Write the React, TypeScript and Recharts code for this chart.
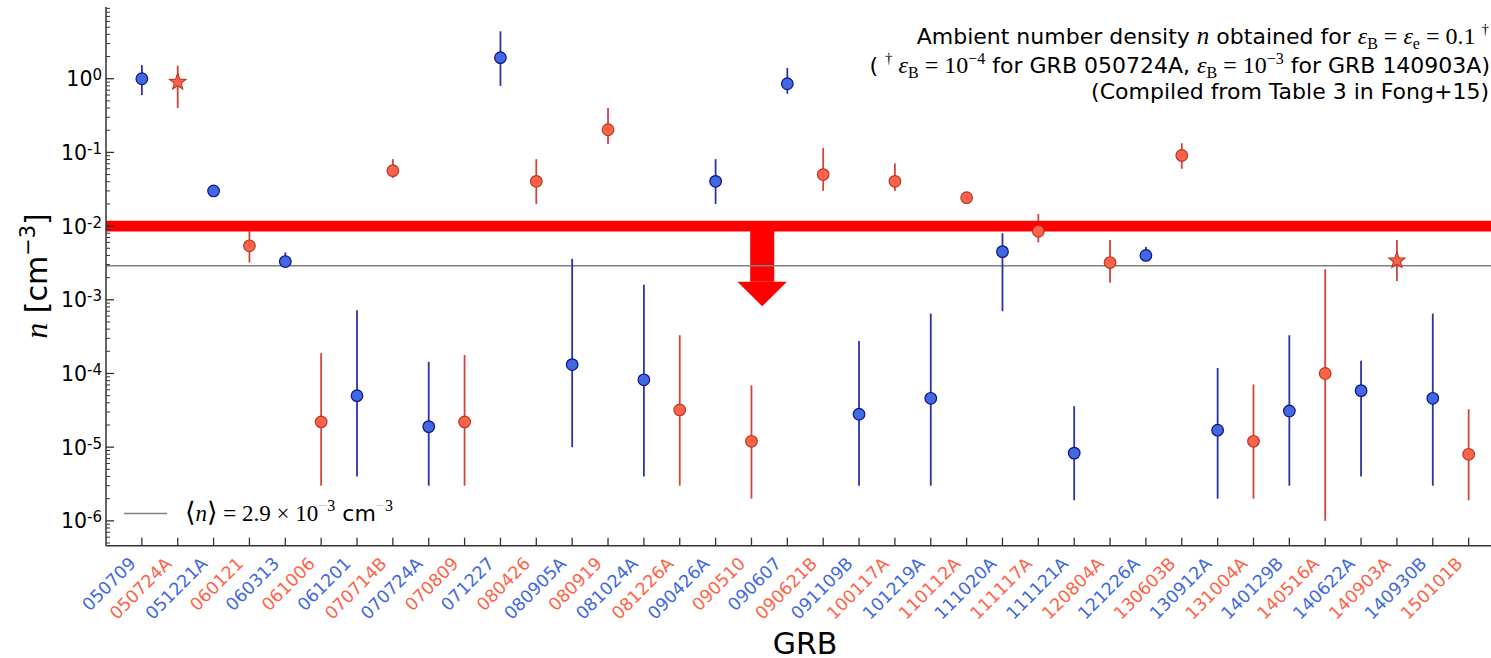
import React from "react";
import {
  ErrorBar,
  ReferenceArea,
  ReferenceLine,
  Scatter,
  ScatterChart,
  XAxis,
  YAxis,
} from "recharts";

// GRB names, in plotting order (left to right)
const grbNames = [
  "050709", "050724A", "051221A", "060121", "060313", "061006", "061201",
  "070714B", "070724A", "070809", "071227", "080426", "080905A", "080919",
  "081024A", "081226A", "090426A", "090510", "090607", "090621B", "091109B",
  "100117A", "101219A", "110112A", "111020A", "111117A", "111121A", "120804A",
  "121226A", "130603B", "130912A", "131004A", "140129B", "140516A", "140622A",
  "140903A", "140930B", "150101B",
];

// ambient density n [cm^-3], best value
const densityN = [
  1.0, 0.9, 0.03, 5.4e-3, 3.3e-3, 2.2e-5, 5.0e-5,
  0.0565, 1.9e-5, 2.2e-5, 1.93, 0.0405, 1.32e-4, 0.203,
  8.2e-5, 3.2e-5, 0.0405, 1.2e-5, 0.855, 0.05, 2.8e-5,
  0.0405, 4.6e-5, 0.0243, 4.5e-3, 8.5e-3, 8.3e-6, 3.2e-3,
  4.0e-3, 0.091, 1.7e-5, 1.2e-5, 3.1e-5, 1.0e-4, 5.85e-5,
  3.4e-3, 4.6e-5, 8.0e-6,
];

// lower end of the error bar
const densityLow = [
  0.6, 0.4, 0.027, 3.2e-3, 3.0e-3, 3.0e-6, 4.0e-6,
  0.045, 3.0e-6, 3.0e-6, 0.8, 0.02, 1.0e-5, 0.13,
  4.0e-6, 3.0e-6, 0.02, 2.0e-6, 0.626, 0.03, 3.0e-6,
  0.03, 3.0e-6, 0.022, 7.0e-4, 6.0e-3, 1.9e-6, 1.7e-3,
  3.6e-3, 0.06, 2.0e-6, 2.0e-6, 3.0e-6, 1.0e-6, 4.0e-6,
  1.8e-3, 3.0e-6, 1.9e-6,
];

// upper end of the error bar
const densityHigh = [
  1.53, 1.5, 0.034, 8.5e-3, 4.4e-3, 1.88e-4, 7.2e-4,
  0.081, 1.44e-4, 1.78e-4, 4.4, 0.081, 3.6e-3, 0.4,
  1.6e-3, 3.3e-4, 0.081, 6.9e-5, 1.4, 0.115, 2.75e-4,
  0.071, 6.5e-4, 0.027, 8.0e-3, 0.0146, 3.6e-5, 6.5e-3,
  5.2e-3, 0.133, 1.19e-4, 7.1e-5, 3.3e-4, 2.6e-3, 1.49e-4,
  6.5e-3, 6.5e-4, 3.27e-5,
];

// GRBs computed with a different epsilon_B (drawn as stars)
const daggerGRBs = ["050724A", "140903A"];

const meanDensity = 2.9e-3;
const thresholdDensity = 1e-2;

// downward arrow below the threshold band (data coordinates)
const arrowX = 18.3;
const arrowHeadTop = 1.76e-3;
const arrowTip = 8.2e-4;

const yDomain: [number, number] = [4.6e-7, 9.4];

const BLUE = "#4169e1";
const RED = "#ff6347";
const BLUE_EDGE = "#10108a";
const RED_EDGE = "#b8362c";
const BLUE_ERR = "#2a32a8";
const RED_ERR = "#d0453c";
const AXIS = "#333";
const SANS = "DejaVu Sans, sans-serif";
const SERIF = "Liberation Serif, DejaVu Serif, serif";

const rows = grbNames.map((name, i) => ({
  name,
  x: i + 1,
  n: densityN[i],
  err: [densityN[i] - densityLow[i], densityHigh[i] - densityN[i]],
}));
const blueRows = rows.filter((_, i) => i % 2 === 0);
const redRows = rows.filter((r, i) => i % 2 === 1 && !daggerGRBs.includes(r.name));
const starRows = rows.filter((r) => daggerGRBs.includes(r.name));

const xTicks = grbNames.map((_, i) => i + 1);
const yTicks: number[] = [];
for (let e = -7; e <= 0; e++) {
  for (let m = 1; m <= 9; m++) {
    const v = m * Math.pow(10, e);
    if (v >= yDomain[0] && v <= yDomain[1]) yTicks.push(v);
  }
}

function BottomTick({ x, y, payload }: any) {
  const i = payload.value - 1;
  const tx = x - 5;
  const ty = y + 19;
  return (
    <g>
      <line x1={x} x2={x} y1={y} y2={y - 8} stroke={AXIS} strokeWidth={1.3} />
      <text
        x={tx}
        y={ty}
        textAnchor="end"
        transform={`rotate(-45 ${tx} ${ty})`}
        fill={i % 2 === 0 ? BLUE : RED}
        fontFamily={SANS}
        fontSize={17.5}
      >
        {grbNames[i]}
      </text>
    </g>
  );
}

function TopTick({ x, y }: any) {
  return <line x1={x} x2={x} y1={y} y2={y + 8} stroke={AXIS} strokeWidth={1.3} />;
}

function LeftTick({ x, y, payload }: any) {
  const lg = Math.log10(payload.value);
  const major = Math.abs(lg - Math.round(lg)) < 1e-6;
  if (!major) {
    return <line x1={x} x2={x + 4} y1={y} y2={y} stroke={AXIS} strokeWidth={1} />;
  }
  const exp = Math.round(lg);
  return (
    <g>
      <line x1={x} x2={x + 8} y1={y} y2={y} stroke={AXIS} strokeWidth={1.3} />
      <text x={x - 4} y={y + 7.5} textAnchor="end" fontFamily={SANS} fontSize={20.5} fill="#000">
        10
        <tspan baselineShift={6.5} fontSize={15}>
          {String(exp)}
        </tspan>
      </text>
    </g>
  );
}

function Dot({ cx, cy, fill, stroke }: any) {
  return <circle cx={cx} cy={cy} r={5.8} fill={fill} stroke={stroke} strokeWidth={1.2} />;
}

function Star({ cx, cy }: any) {
  const pts: string[] = [];
  for (let k = 0; k < 10; k++) {
    const r = k % 2 === 0 ? 8.6 : 3.6;
    const a = -Math.PI / 2 + (k * Math.PI) / 5;
    pts.push(`${cx + r * Math.cos(a)},${cy + r * Math.sin(a)}`);
  }
  return <polygon points={pts.join(" ")} fill={RED} stroke={RED_EDGE} strokeWidth={1.1} />;
}

function ArrowHead({ x, y, width, height }: any) {
  return (
    <polygon
      points={`${x},${y} ${x + width},${y} ${x + width / 2},${y + height}`}
      fill="#ff0000"
    />
  );
}

// subscript / superscript pieces for the mathtext-like labels
function Sub({ children, size = 16 }: any) {
  return (
    <tspan baselineShift={-5} fontSize={size}>
      {children}
    </tspan>
  );
}

function Sup({ children, size = 15, rise = 10, fill }: any) {
  return (
    <tspan baselineShift={rise} fontSize={size} fill={fill}>
      {children}
    </tspan>
  );
}

function Overlay() {
  return (
    <svg
      width={1491}
      height={658}
      style={{ position: "absolute", left: 0, top: 0, pointerEvents: "none" }}
    >
      {/* annotation, top right */}
      <text x={1489} y={43.5} textAnchor="end" fontFamily={SANS} fontSize={22} fill="#000">
        {"Ambient number density "}
        <tspan fontFamily={SERIF} fontStyle="italic" fontSize={25}>
          n
        </tspan>
        {" obtained for "}
        <tspan fontFamily={SERIF} fontSize={24}>
          <tspan fontStyle="italic">ε</tspan>
          <Sub>B</Sub>
          {" = "}
          <tspan fontStyle="italic">ε</tspan>
          <Sub>e</Sub>
          {" = 0.1 "}
          <Sup>†</Sup>
        </tspan>
      </text>
      <text x={1490} y={72.5} textAnchor="end" fontFamily={SANS} fontSize={22} fill="#000">
        {"( "}
        <tspan fontFamily={SERIF} fontSize={24}>
          <Sup>†</Sup>
          {" "}
          <tspan fontStyle="italic">ε</tspan>
          <Sub>B</Sub>
          {" = 10"}
          <Sup size={16} rise={9}>
            −4
          </Sup>
        </tspan>
        {" for GRB 050724A, "}
        <tspan fontFamily={SERIF} fontSize={24}>
          <tspan fontStyle="italic">ε</tspan>
          <Sub>B</Sub>
          {" = 10"}
          <Sup size={16} rise={9}>
            −3
          </Sup>
        </tspan>
        {" for GRB 140903A)"}
      </text>
      <text x={1489} y={98.5} textAnchor="end" fontFamily={SANS} fontSize={22} fill="#000">
        (Compiled from Table 3 in Fong+15)
      </text>

      {/* legend, bottom left */}
      <line x1={124} x2={167} y1={513.5} y2={513.5} stroke="#808080" strokeWidth={1.5} />
      <text x={185} y={521} fontFamily={SERIF} fontSize={23} fill="#000">
        <tspan fontSize={27}>{"⟨"}</tspan>
        <tspan fontStyle="italic">n</tspan>
        <tspan fontSize={27}>{"⟩"}</tspan>
        {" = 2.9 × 10"}
        <Sup size={16} rise={10}>
          <tspan fill="#c8c8c8">−</tspan>3
        </Sup>
        <tspan fontFamily={SANS} fontSize={22}>
          {" cm"}
        </tspan>
        <Sup size={16} rise={10}>
          <tspan fill="#c8c8c8">−</tspan>3
        </Sup>
      </text>

      {/* y-axis label */}
      <text
        x={47}
        y={276}
        textAnchor="middle"
        transform="rotate(-90 47 276)"
        fontFamily={SANS}
        fontSize={30}
        fill="#000"
      >
        <tspan fontFamily={SERIF} fontStyle="italic" fontSize={32}>
          n
        </tspan>
        {" [cm"}
        <Sup size={21} rise={12}>
          −3
        </Sup>
        {"]"}
      </text>

      {/* x-axis label */}
      <text x={805} y={654} textAnchor="middle" fontFamily={SANS} fontSize={30} fill="#000">
        GRB
      </text>
    </svg>
  );
}

export default function App() {
  return (
    <div
      style={{
        position: "fixed",
        left: 0,
        top: 0,
        width: 1491,
        height: 658,
        overflow: "hidden",
        background: "#fff",
      }}
    >
      <ScatterChart width={1505} height={658} margin={{ top: 7, right: 0.5, bottom: 0, left: 0 }}>
        <XAxis
          type="number"
          dataKey="x"
          domain={[0, 39]}
          ticks={xTicks}
          interval={0}
          allowDataOverflow
          height={112.3}
          tickSize={0}
          tickMargin={0}
          tickLine={false}
          axisLine={{ stroke: AXIS, strokeWidth: 1.5 }}
          tick={<BottomTick />}
        />
        <XAxis
          xAxisId="top"
          orientation="top"
          type="number"
          dataKey="x"
          domain={[0, 39]}
          ticks={xTicks}
          interval={0}
          allowDataOverflow
          height={0}
          tickSize={0}
          tickMargin={0}
          tickLine={false}
          axisLine={{ stroke: AXIS, strokeWidth: 1.5 }}
          tick={<TopTick />}
        />
        <YAxis
          type="number"
          dataKey="n"
          scale="log"
          domain={yDomain}
          ticks={yTicks}
          interval={0}
          allowDataOverflow
          width={106}
          tickSize={0}
          tickMargin={0}
          tickLine={false}
          axisLine={{ stroke: AXIS, strokeWidth: 1.5 }}
          tick={<LeftTick />}
        />

        <ReferenceLine y={meanDensity} stroke="#808080" strokeWidth={1.6} />

        <Scatter
          data={blueRows}
          isAnimationActive={false}
          shape={(p: any) => <Dot {...p} fill={BLUE} stroke={BLUE_EDGE} />}
        >
          <ErrorBar dataKey="err" direction="y" width={0} stroke={BLUE_ERR} strokeWidth={1.8} isAnimationActive={false} />
        </Scatter>
        <Scatter
          data={redRows}
          isAnimationActive={false}
          shape={(p: any) => <Dot {...p} fill={RED} stroke={RED_EDGE} />}
        >
          <ErrorBar dataKey="err" direction="y" width={0} stroke={RED_ERR} strokeWidth={1.8} isAnimationActive={false} />
        </Scatter>
        <Scatter data={starRows} isAnimationActive={false} shape={(p: any) => <Star {...p} />}>
          <ErrorBar dataKey="err" direction="y" width={0} stroke={RED_ERR} strokeWidth={1.8} isAnimationActive={false} />
        </Scatter>

        <ReferenceLine y={thresholdDensity} stroke="#ff0000" strokeWidth={10.6} />
        <ReferenceArea
          x1={arrowX - 0.335}
          x2={arrowX + 0.335}
          y1={arrowHeadTop}
          y2={thresholdDensity}
          fill="#ff0000"
          fillOpacity={1}
          stroke="none"
        />
        <ReferenceArea
          x1={arrowX - 0.69}
          x2={arrowX + 0.69}
          y1={arrowTip}
          y2={arrowHeadTop}
          shape={<ArrowHead />}
        />
      </ScatterChart>
      <Overlay />
    </div>
  );
}
